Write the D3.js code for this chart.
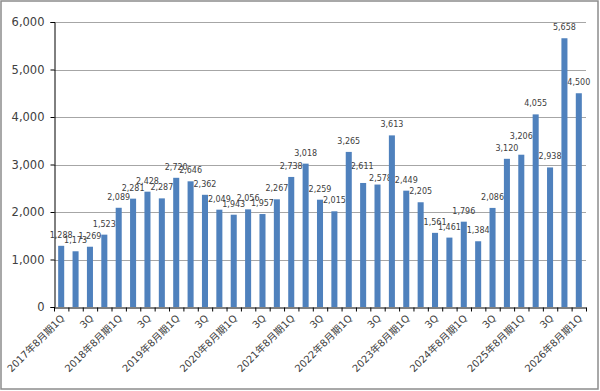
<!DOCTYPE html>
<html>
<head>
<meta charset="utf-8">
<script src="https://cdn.jsdelivr.net/npm/d3@7"></script>
<style>
  html, body { margin: 0; padding: 0; background: #fff; }
  svg { display: block; }
</style>
</head>
<body>
<svg id="chart" width="600" height="391"></svg>
<script>
const years = ["2017","2018","2019","2020","2021","2022","2023","2024","2025","2026"];
const categories = [];
years.forEach(yr => {
  ["1Q","2Q","3Q","4Q"].forEach(q => {
    categories.push(q === "1Q" ? yr + "年8月期1Q" : q);
  });
});
categories.length = 37;
const values = [1288,1173,1269,1523,2089,2281,2428,2287,2720,2646,2362,2049,1943,2056,1957,2267,2738,3018,2259,2015,3265,2611,2578,3613,2449,2205,1561,1461,1796,1384,2086,3120,3206,4055,2938,5658,4500];
const yTicks = [0,1000,2000,3000,4000,5000,6000];

(function(){
// manual label nudges seen in the reference (index -> [dx, dy])
const labelNudge = {21: [-1, -6], 22: [3, 4], 32: [0, -8]};

const svg = d3.select("#chart");
const pLeft = 54, pRight = 586, pTop = 22, pBottom = 307;

svg.append("rect").attr("x",1).attr("y",1).attr("width",597).attr("height",388)
  .attr("fill","#fff").attr("stroke","#8c8c8c").attr("stroke-width",1.5);

const y = d3.scaleLinear().domain([0,6000]).range([pBottom, pTop]);
const x = d3.scaleBand().domain(d3.range(categories.length)).range([pLeft,pRight])
  .paddingInner(0.58).paddingOuter(0.29);
const xb = d3.scaleLinear().domain([0,categories.length]).range([pLeft,pRight]);

// gridlines
svg.append("g").selectAll("line").data(yTicks.filter(d=>d>0)).join("line")
  .attr("x1",pLeft).attr("x2",pRight)
  .attr("y1",d=>Math.round(y(d))+0.5).attr("y2",d=>Math.round(y(d))+0.5)
  .attr("stroke","#a6a6a6").attr("stroke-width",1);

// data labels (drawn under bars, as in the reference)
svg.append("g").selectAll("text").data(values).join("text")
  .attr("x",(d,i)=>x(i)+x.bandwidth()/2+((labelNudge[i]||[0,0])[0]))
  .attr("y",(d,i)=>y(d)-8+((labelNudge[i]||[0,0])[1]))
  .attr("text-anchor","middle")
  .attr("font-family","DejaVu Sans, Verdana, sans-serif")
  .attr("font-size","8px")
  .attr("fill","#404040")
  .text(d=>d3.format(",")(d));

// bars
svg.append("g").selectAll("rect").data(values).join("rect")
  .attr("x",(d,i)=>x(i)).attr("width",x.bandwidth())
  .attr("y",d=>y(d)).attr("height",d=>pBottom-y(d))
  .attr("fill","#4f81bd");

// y axis
const yAxis = svg.append("g").attr("transform",`translate(${pLeft+0.5},0)`)
  .call(d3.axisLeft(y).tickValues(yTicks).tickFormat(d3.format(",")).tickSize(4).tickPadding(6));
yAxis.select(".domain").attr("stroke","#000");
yAxis.selectAll(".tick line").attr("stroke","#000");
yAxis.selectAll("text").attr("font-family","DejaVu Sans, Verdana, sans-serif")
  .attr("font-size","11.5px").attr("fill","#404040");

// x axis ticks at boundaries
const xAxis = svg.append("g").attr("transform",`translate(0,${pBottom+0.5})`)
  .call(d3.axisBottom(xb).tickValues(d3.range(categories.length+1)).tickFormat("").tickSize(4).tickSizeOuter(0));
xAxis.select(".domain").attr("stroke","#000");
xAxis.selectAll(".tick line").attr("stroke","#000");

// x labels
svg.append("g").selectAll("text").data(categories.map((c,i)=>({c,i})).filter(d=>d.i%2===0)).join("text")
  .attr("transform",d=>`translate(${x(d.i)+x.bandwidth()/2+4},${pBottom+12}) rotate(-45)`)
  .attr("text-anchor","end")
  .attr("font-family","DejaVu Sans, 'Noto Sans CJK JP', sans-serif")
  .attr("font-size","10px")
  .attr("fill","#404040")
  .text(d=>d.c);
})();
</script>
</body>
</html>
